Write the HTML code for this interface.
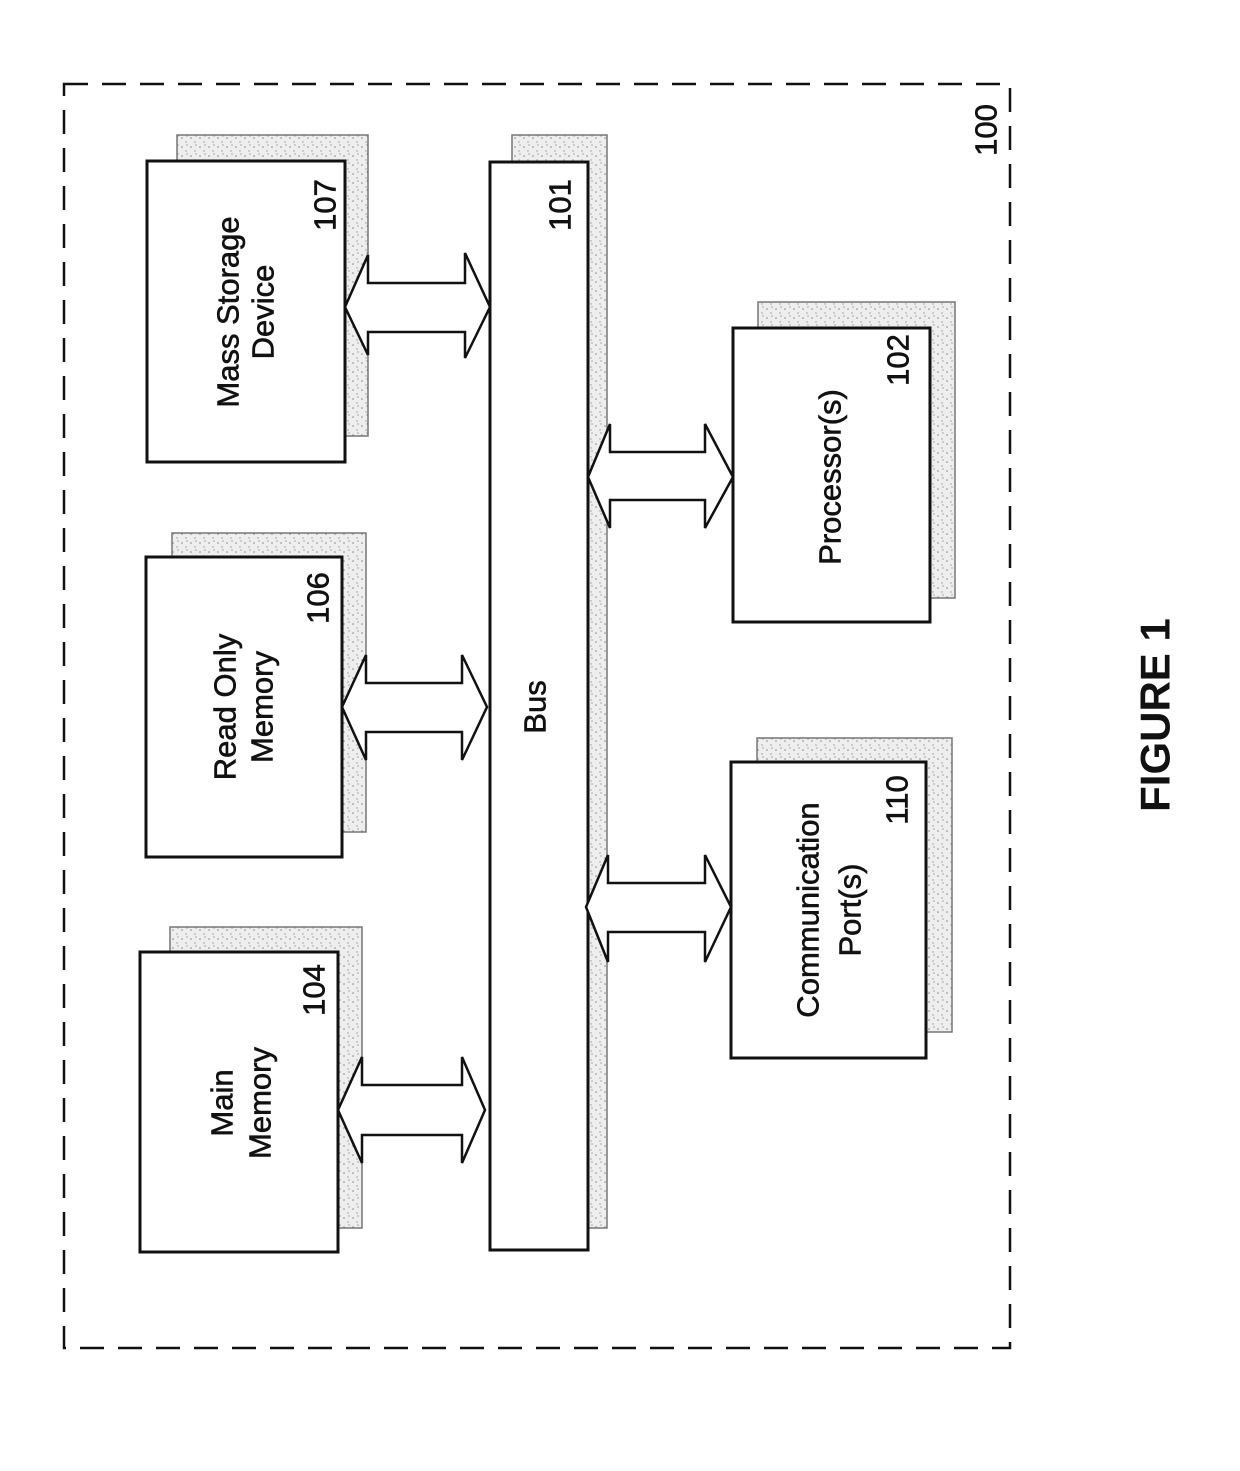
<!DOCTYPE html>
<html><head><meta charset="utf-8"><style>
html,body{margin:0;padding:0;background:#fff;}
svg{display:block;}
text{font-family:"Liberation Sans",Arial,sans-serif;fill:#111;}
</style></head><body>
<svg width="1240" height="1471" viewBox="0 0 1240 1471" xmlns="http://www.w3.org/2000/svg">
<defs>
<pattern id="st" width="9" height="9" patternUnits="userSpaceOnUse">
<rect width="9" height="9" fill="#eeeeee"/>
<circle cx="2" cy="3" r="0.8" fill="#888"/><circle cx="6" cy="7" r="0.7" fill="#999"/><circle cx="7" cy="1" r="0.6" fill="#777"/>
</pattern>
</defs>
<rect x="64" y="84" width="946" height="1264" fill="none" stroke="#111" stroke-width="2.5" stroke-dasharray="24,14"/>

<g stroke="#777" stroke-width="1.5" fill="url(#st)">
<rect x="177" y="135" width="191" height="301"/>
<rect x="172" y="533" width="194" height="299"/>
<rect x="170" y="927" width="192" height="301"/>
<rect x="512" y="135" width="95" height="1093"/>
<rect x="758" y="302" width="197" height="296"/>
<rect x="757" y="738" width="195" height="294"/>
</g>
<g stroke="#111" stroke-width="3" fill="#fff">
<rect x="147" y="161" width="198" height="301"/>
<rect x="146" y="557" width="196" height="300"/>
<rect x="140" y="952" width="198" height="300"/>
<rect x="490" y="162" width="98" height="1088"/>
<rect x="733" y="328" width="197" height="294"/>
<rect x="731" y="762" width="195" height="296"/>
</g>
<g stroke="#111" stroke-width="2.5" fill="#fff" stroke-linejoin="miter">
<polygon points="345,307 368,255 368,283 465,283 465,253 490,307 465,358 465,332 368,332 368,355"/>
<polygon points="342,707 366,655 366,683 462,683 462,655 487,707 462,760 462,732 366,732 366,760"/>
<polygon points="338,1110 362,1057 362,1085 462,1085 462,1057 485,1110 462,1163 462,1135 362,1135 362,1163"/>
<polygon points="588,477 610,424 610,452 705,452 705,424 733,477 705,528 705,500 610,500 610,528"/>
<polygon points="586,907 608,855 608,883 705,883 705,855 731,907 705,962 705,932 608,932 608,962"/>
</g>
<g font-size="31" text-anchor="middle" stroke="#111" stroke-width="0.6">
<text transform="translate(228,312) rotate(-90)" dominant-baseline="central">Mass Storage</text>
<text transform="translate(263,312) rotate(-90)" dominant-baseline="central">Device</text>
<text transform="translate(225,707) rotate(-90)" dominant-baseline="central">Read Only</text>
<text transform="translate(262,707) rotate(-90)" dominant-baseline="central">Memory</text>
<text transform="translate(222,1103) rotate(-90)" dominant-baseline="central">Main</text>
<text transform="translate(260,1103) rotate(-90)" dominant-baseline="central">Memory</text>
<text transform="translate(535,707) rotate(-90)" dominant-baseline="central">Bus</text>
<text transform="translate(830,477) rotate(-90)" dominant-baseline="central">Processor(s)</text>
<text transform="translate(808,910) rotate(-90)" dominant-baseline="central">Communication</text>
<text transform="translate(850,910) rotate(-90)" dominant-baseline="central">Port(s)</text>
<text transform="translate(325,205) rotate(-90)" dominant-baseline="central">107</text>
<text transform="translate(318,598) rotate(-90)" dominant-baseline="central">106</text>
<text transform="translate(314,990) rotate(-90)" dominant-baseline="central">104</text>
<text transform="translate(560,205) rotate(-90)" dominant-baseline="central">101</text>
<text transform="translate(898,360) rotate(-90)" dominant-baseline="central">102</text>
<text transform="translate(897,800) rotate(-90)" dominant-baseline="central">110</text>
<text transform="translate(986,130) rotate(-90)" dominant-baseline="central">100</text>
</g>
<text transform="translate(1155,715) rotate(-90)" dominant-baseline="central" text-anchor="middle" font-size="42" font-weight="bold">FIGURE 1</text>
</svg>
</body></html>
